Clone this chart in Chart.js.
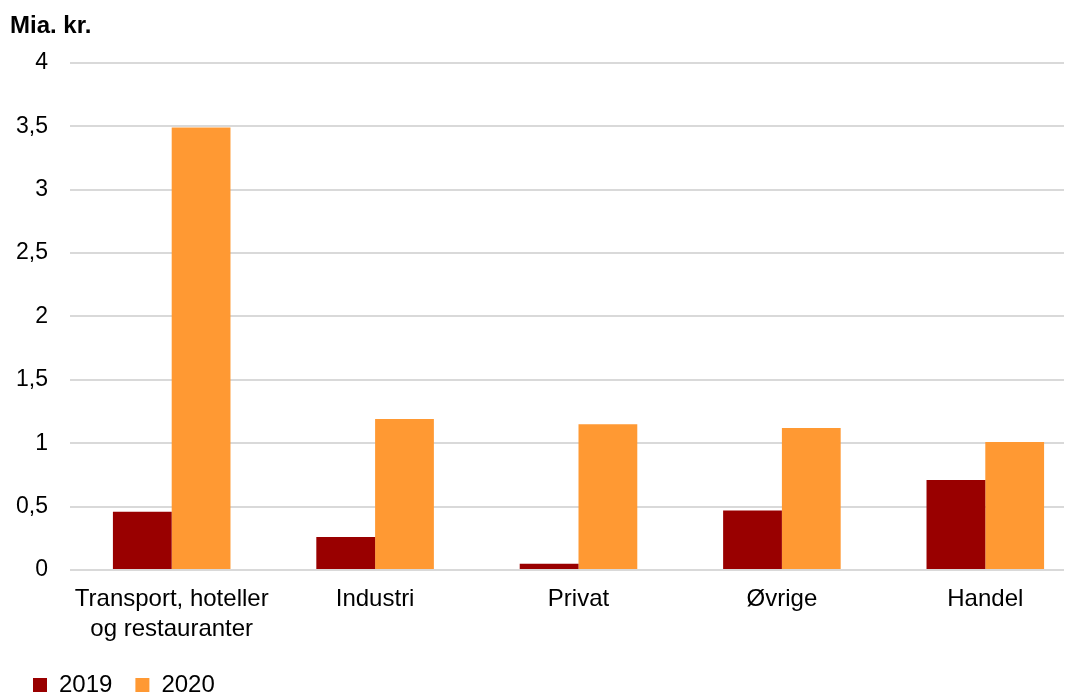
<!DOCTYPE html>
<html>
<head>
<meta charset="utf-8">
<script src="https://cdn.jsdelivr.net/npm/chart.js@4/dist/chart.umd.min.js"></script>
<style>
  html, body { margin: 0; padding: 0; background: #fff; }
  #wrap { width: 1076px; height: 693px; position: relative; }
</style>
</head>
<body>
<div id="wrap"><canvas id="chart"></canvas></div>
<script>
// categories and values
var categories = [['Transport, hoteller', 'og restauranter'], 'Industri', 'Privat', 'Øvrige', 'Handel'];
var values2019 = [0.46, 0.26, 0.05, 0.47, 0.71];
var values2020 = [3.49, 1.19, 1.15, 1.12, 1.01];
var yTicks = [0, 0.5, 1, 1.5, 2, 2.5, 3, 3.5, 4];

Chart.defaults.font.family = "'Liberation Sans', Arial, sans-serif";
Chart.defaults.color = '#000';

// in the original the category axis runs on past the gridlines' right end,
// so stretch the x scale a bit beyond the plot area
var stretchX = {
  id: 'stretchX',
  afterLayout: function (chart) {
    var x = chart.scales.x;
    x.right += 23;
    x.width = x.right - x.left;
    x.configure();
  }
};

var config = {
  type: 'bar',
  data: {
    labels: categories,
    datasets: [{
      label: '2019',
      backgroundColor: '#990000',
      data: values2019
    }, {
      label: '2020',
      backgroundColor: '#ff9933',
      data: values2020
    }]
  },
  options: {
    responsive: true,
    maintainAspectRatio: false,
    animation: false,
    layout: { padding: { left: 10, right: 12, top: 0, bottom: -14 } },
    datasets: {
      bar: { categoryPercentage: 0.578, barPercentage: 1.0 }
    },
    plugins: {
      title: {
        display: true,
        text: 'Mia. kr.',
        align: 'start',
        font: { size: 24, weight: 'bold' },
        padding: { top: 12, bottom: 22 }
      },
      legend: {
        position: 'bottom',
        align: 'start',
        labels: {
          boxWidth: 14,
          boxHeight: 14,
          padding: 23,
          font: { size: 24 }
        }
      },
      tooltip: { enabled: false }
    },
    scales: {
      x: {
        grid: { display: false },
        border: { display: false },
        ticks: {
          font: { size: 24, lineHeight: 1.25 },
          maxRotation: 0,
          padding: 6
        }
      },
      y: {
        min: 0,
        max: 4,
        afterBuildTicks: function (axis) {
          axis.ticks = yTicks.map(function (v) { return { value: v }; });
        },
        afterFit: function (axis) { axis.width = 60; },
        grid: { color: '#d9d9d9', lineWidth: 2, drawTicks: false },
        border: { display: false },
        ticks: {
          font: { size: 23 },
          padding: 22,
          callback: function (v) { return String(v).replace('.', ','); }
        }
      }
    }
  },
  plugins: [stretchX]
};

var chart = new Chart(document.getElementById('chart'), config);
</script>
</body>
</html>
